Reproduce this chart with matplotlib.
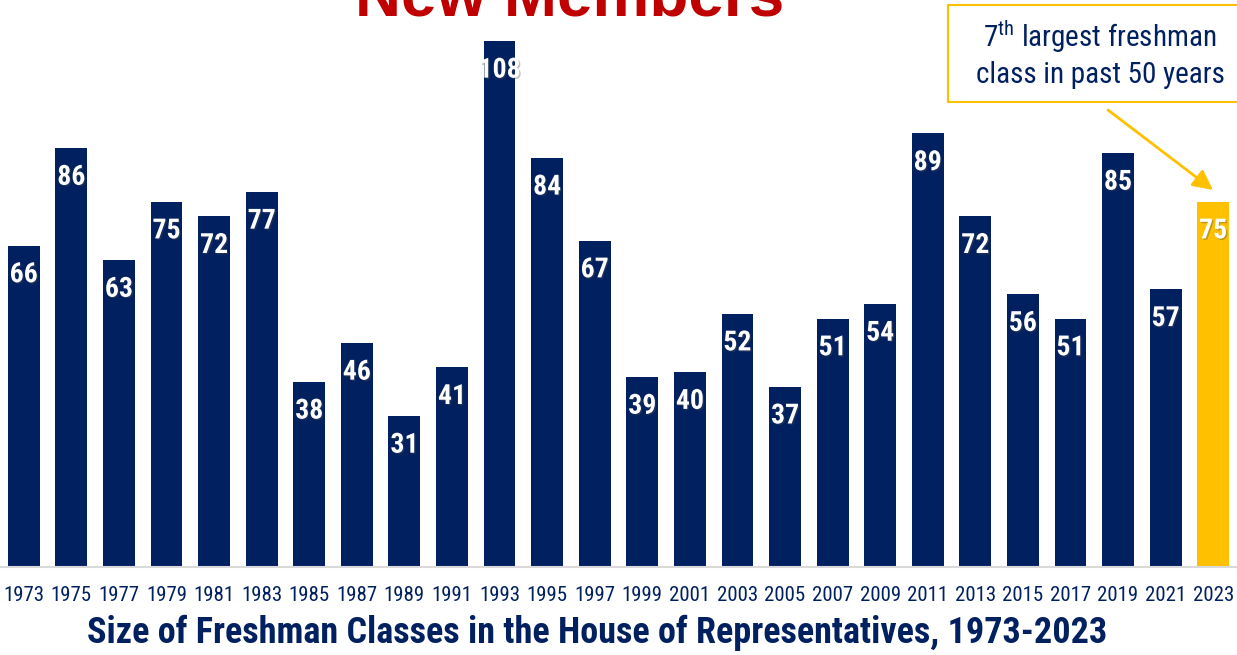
import matplotlib
matplotlib.use("Agg")
import matplotlib.pyplot as plt
import matplotlib.patheffects as pe
from matplotlib import font_manager

years = ["1973", "1975", "1977", "1979", "1981", "1983", "1985", "1987", "1989", "1991",
         "1993", "1995", "1997", "1999", "2001", "2003", "2005", "2007", "2009", "2011",
         "2013", "2015", "2017", "2019", "2021", "2023"]
values = [66, 86, 63, 75, 72, 77, 38, 46, 31, 41,
          108, 84, 67, 39, 40, 52, 37, 51, 54, 89,
          72, 56, 51, 85, 57, 75]

NAVY = "#002060"
GOLD = "#FFC000"
RED = "#C00000"

names = {f.name for f in font_manager.fontManager.ttflist}
NARROW = "Liberation Sans"
for cand in ["Liberation Sans Narrow", "Arial Narrow", "Arimo Narrow", "Roboto Condensed",
             "PT Sans Narrow", "Archivo Narrow", "Open Sans Condensed"]:
    if cand in names:
        NARROW = cand
        break
plt.rcParams["font.family"] = [NARROW, "DejaVu Sans"]
plt.rcParams["mathtext.fontset"] = "custom"
plt.rcParams["mathtext.rm"] = NARROW

fig = plt.figure(figsize=(12.37, 6.55), dpi=100)
ax = fig.add_axes([0, 88 / 655, 1, 1 - 88 / 655])

x = list(range(len(years)))
colors = [NAVY] * (len(years) - 1) + [GOLD]
ax.bar(x, values, width=0.67, color=colors, zorder=2)
ax.set_xlim(-0.5, len(years) - 0.5)
ax.set_ylim(0, 116.4)

for xi, v in zip(x, values):
    ax.text(xi, v - 6, str(v), ha="center", va="center", color="white",
            fontsize=20, fontweight="bold", zorder=3,
            path_effects=[pe.withSimplePatchShadow(offset=(1, -1), alpha=0.35)])

for s in ["top", "right", "left"]:
    ax.spines[s].set_visible(False)
ax.spines["bottom"].set_color("#D9D9D9")
ax.spines["bottom"].set_linewidth(1.5)
ax.set_yticks([])
ax.set_xticks(x)
ax.set_xticklabels(years, fontsize=15, color=NAVY)
ax.tick_params(axis="x", length=0, pad=14)

# Title (cut off at top)
fig.text(570 / 1237, 1 - 15 / 655, "New Members", ha="center", va="baseline",
         color=RED, fontsize=46, fontweight="bold", family="Liberation Sans")

# Bottom title
fig.text(597 / 1237, 1 - 633 / 655,
         "Size of Freshman Classes in the House of Representatives, 1973-2023",
         ha="center", va="center", color=NAVY, fontsize=26, fontweight="bold")

# Callout box
box = plt.Rectangle((948 / 1237, 1 - 102 / 655), (1240 - 948) / 1237, 97 / 655,
                    transform=fig.transFigure, facecolor="white", edgecolor=GOLD,
                    linewidth=1.5, zorder=5)
fig.patches.append(box)
fig.text(1100 / 1237, 1 - 37 / 655, r"7$^{\mathrm{th}}$ largest freshman", ha="center",
         va="center", color=NAVY, fontsize=21, zorder=6)
fig.text(1100 / 1237, 1 - 75 / 655, "class in past 50 years", ha="center",
         va="center", color=NAVY, fontsize=21, zorder=6)

# Arrow
ax.annotate("", xy=(1213 / 1237, 1 - 190 / 655), xytext=(1108 / 1237, 1 - 110 / 655),
            xycoords="figure fraction", textcoords="figure fraction",
            arrowprops=dict(arrowstyle="-|>,head_length=1.2,head_width=0.6",
                            color=GOLD, lw=2, shrinkA=0, shrinkB=0))

fig.savefig("out.png", dpi=100)
